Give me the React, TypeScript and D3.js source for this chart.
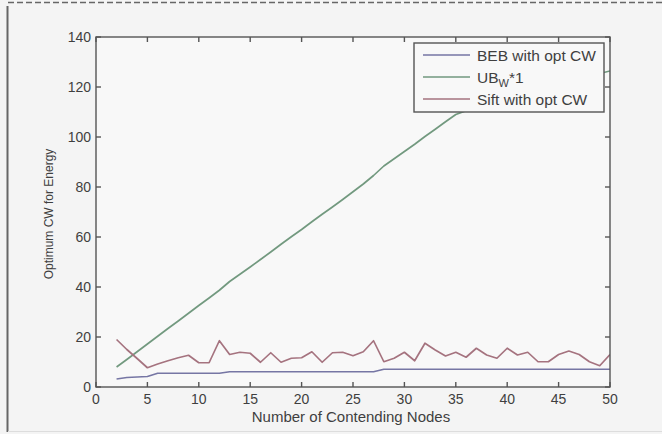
import { useEffect, useRef } from 'react';
import * as d3 from 'd3';

const nodes = [2, 3, 4, 5, 6, 7, 8, 9, 10, 11, 12, 13, 14, 15, 16, 17, 18, 19, 20, 21, 22, 23, 24, 25,
  26, 27, 28, 29, 30, 31, 32, 33, 34, 35, 36, 37, 38, 39, 40, 41, 42, 43, 44, 45, 46, 47, 48, 49, 50];

const bebOpt = [3.2, 3.8, 4.0, 4.2, 5.5, 5.5, 5.5, 5.5, 5.5, 5.5, 5.5, 6.1, 6.1, 6.1, 6.1, 6.1, 6.1, 6.1,
  6.1, 6.1, 6.1, 6.1, 6.1, 6.1, 6.1, 6.1, 7.1, 7.1, 7.1, 7.1, 7.1, 7.1, 7.1, 7.1, 7.1, 7.1, 7.1, 7.1,
  7.1, 7.1, 7.1, 7.1, 7.1, 7.1, 7.1, 7.1, 7.1, 7.1, 7.1];

// tail sits behind the legend, only the end at x=50 peeks out (~126)
const ubW = [8, 11, 14.1, 17.2, 20.3, 23.4, 26.4, 29.5, 32.6, 35.6, 38.7, 42.2, 45.1, 48, 51, 54, 57.1,
  60.1, 63, 66.1, 69.1, 72, 75, 78.1, 81.2, 84.6, 88.4, 91.3, 94.2, 97.1, 100.2, 103.1, 106.1, 109,
  110.5, 111.8, 113, 114.2, 115.4, 116.6, 117.8, 119, 120.2, 121.4, 122.6, 123.6, 124.6, 125.4, 126.4];

const siftOpt = [19, 15, 11.4, 7.7, 9.2, 10.5, 11.7, 12.7, 9.7, 9.7, 18.5, 13, 13.9, 13.5, 9.9, 13.7,
  9.9, 11.5, 11.7, 14.1, 9.9, 13.7, 13.9, 12.5, 14.1, 18.5, 10.1, 11.5, 13.9, 10.5, 17.5, 14.8, 12.4,
  13.9, 11.9, 15.5, 12.8, 11.5, 15.5, 12.8, 13.9, 10.1, 10.1, 13, 14.4, 13, 10.1, 8.5, 13];

const seriesNames = ['BEB with opt CW', 'UB', 'Sift with opt CW'];
const seriesColors = ['#7676a4', '#72997f', '#a5737f'];
const xTicks = [0, 5, 10, 15, 20, 25, 30, 35, 40, 45, 50];
const yTicks = [0, 20, 40, 60, 80, 100, 120, 140];

export default function App() {
  const svgRef = useRef<SVGSVGElement>(null);
  const width = 662;
  const height = 434;

  useEffect(() => {
    const svg = d3.select(svgRef.current);
    svg.selectAll('*').remove();

    const left = 96, right = 610, top = 37, bottom = 387;
    const x = d3.scaleLinear().domain([0, 50]).range([left, right]);
    const y = d3.scaleLinear().domain([0, 140]).range([bottom, top]);
    const font = 'Liberation Sans, Arial, sans-serif';
    const axisColor = '#555';
    const textColor = '#3f3f3f';

    // page background and frame
    svg.append('rect').attr('width', width).attr('height', height).attr('fill', '#f4f4f4');
    svg.append('line').attr('x1', 8).attr('x2', width).attr('y1', 2.5).attr('y2', 2.5)
      .attr('stroke', '#666').attr('stroke-width', 1.5).attr('stroke-dasharray', '6,3');
    svg.append('line').attr('x1', 7.5).attr('x2', 7.5).attr('y1', 6).attr('y2', 432)
      .attr('stroke', '#666').attr('stroke-width', 2);
    svg.append('line').attr('x1', 8).attr('x2', width).attr('y1', 431.5).attr('y2', 431.5)
      .attr('stroke', '#ddd').attr('stroke-width', 1);

    svg.append('rect').attr('x', left).attr('y', top).attr('width', right - left).attr('height', bottom - top)
      .attr('fill', '#f8f8f8');

    svg.append('clipPath').attr('id', 'plotClip').append('rect')
      .attr('x', left).attr('y', top).attr('width', right - left).attr('height', bottom - top);

    const line = d3.line<number>().x((_, i) => x(nodes[i])).y(d => y(d));
    const plot = svg.append('g').attr('clip-path', 'url(#plotClip)');
    [bebOpt, ubW, siftOpt].forEach((s, i) => {
      plot.append('path').attr('d', line(s) as string).attr('fill', 'none')
        .attr('stroke', seriesColors[i]).attr('stroke-width', 1.7).attr('stroke-linejoin', 'round');
    });

    // box with inward ticks
    svg.append('rect').attr('x', left).attr('y', top).attr('width', right - left).attr('height', bottom - top)
      .attr('fill', 'none').attr('stroke', axisColor).attr('stroke-width', 1.4);
    const tickG = svg.append('g').attr('stroke', axisColor).attr('stroke-width', 1.4);
    xTicks.forEach(t => {
      tickG.append('line').attr('x1', x(t)).attr('x2', x(t)).attr('y1', bottom).attr('y2', bottom - 5);
      tickG.append('line').attr('x1', x(t)).attr('x2', x(t)).attr('y1', top).attr('y2', top + 5);
    });
    yTicks.forEach(t => {
      tickG.append('line').attr('x1', left).attr('x2', left + 5).attr('y1', y(t)).attr('y2', y(t));
      tickG.append('line').attr('x1', right).attr('x2', right - 5).attr('y1', y(t)).attr('y2', y(t));
    });

    svg.append('g').selectAll('text').data(xTicks).join('text')
      .attr('x', d => x(d)).attr('y', bottom + 17).attr('text-anchor', 'middle')
      .attr('font-family', font).attr('font-size', 14).attr('fill', textColor).text(d => d);
    svg.append('g').selectAll('text').data(yTicks).join('text')
      .attr('x', left - 5).attr('y', d => y(d) + 5).attr('text-anchor', 'end')
      .attr('font-family', font).attr('font-size', 14).attr('fill', textColor).text(d => d);

    svg.append('text').attr('x', 351).attr('y', 422).attr('text-anchor', 'middle')
      .attr('font-family', font).attr('font-size', 15).attr('fill', textColor)
      .text('Number of Contending Nodes');
    svg.append('text').attr('transform', `translate(53,214) rotate(-90)`).attr('text-anchor', 'middle')
      .attr('font-family', font).attr('font-size', 12).attr('fill', textColor)
      .text('Optimum CW for Energy');

    // legend
    const lg = svg.append('g');
    lg.append('rect').attr('x', 414).attr('y', 43).attr('width', 190).attr('height', 69)
      .attr('fill', '#f8f8f8').attr('stroke', axisColor).attr('stroke-width', 1.4);
    const rows = [55, 77, 99];
    seriesNames.forEach((name, i) => {
      lg.append('line').attr('x1', 423).attr('x2', 470).attr('y1', rows[i]).attr('y2', rows[i])
        .attr('stroke', seriesColors[i]).attr('stroke-width', 1.7);
      const t = lg.append('text').attr('x', 477).attr('y', rows[i] + 5.5)
        .attr('font-family', font).attr('font-size', 15.5).attr('fill', textColor);
      if (i === 1) {
        t.append('tspan').text(name);
        t.append('tspan').attr('font-size', 11).attr('dy', 4).text('W');
        t.append('tspan').attr('dy', -4).text('*1');
      } else {
        t.text(name);
      }
    });
  }, []);

  return (
    <svg ref={svgRef} width={width} height={height}
      style={{ position: 'absolute', left: 0, top: 0, display: 'block' }} />
  );
}
